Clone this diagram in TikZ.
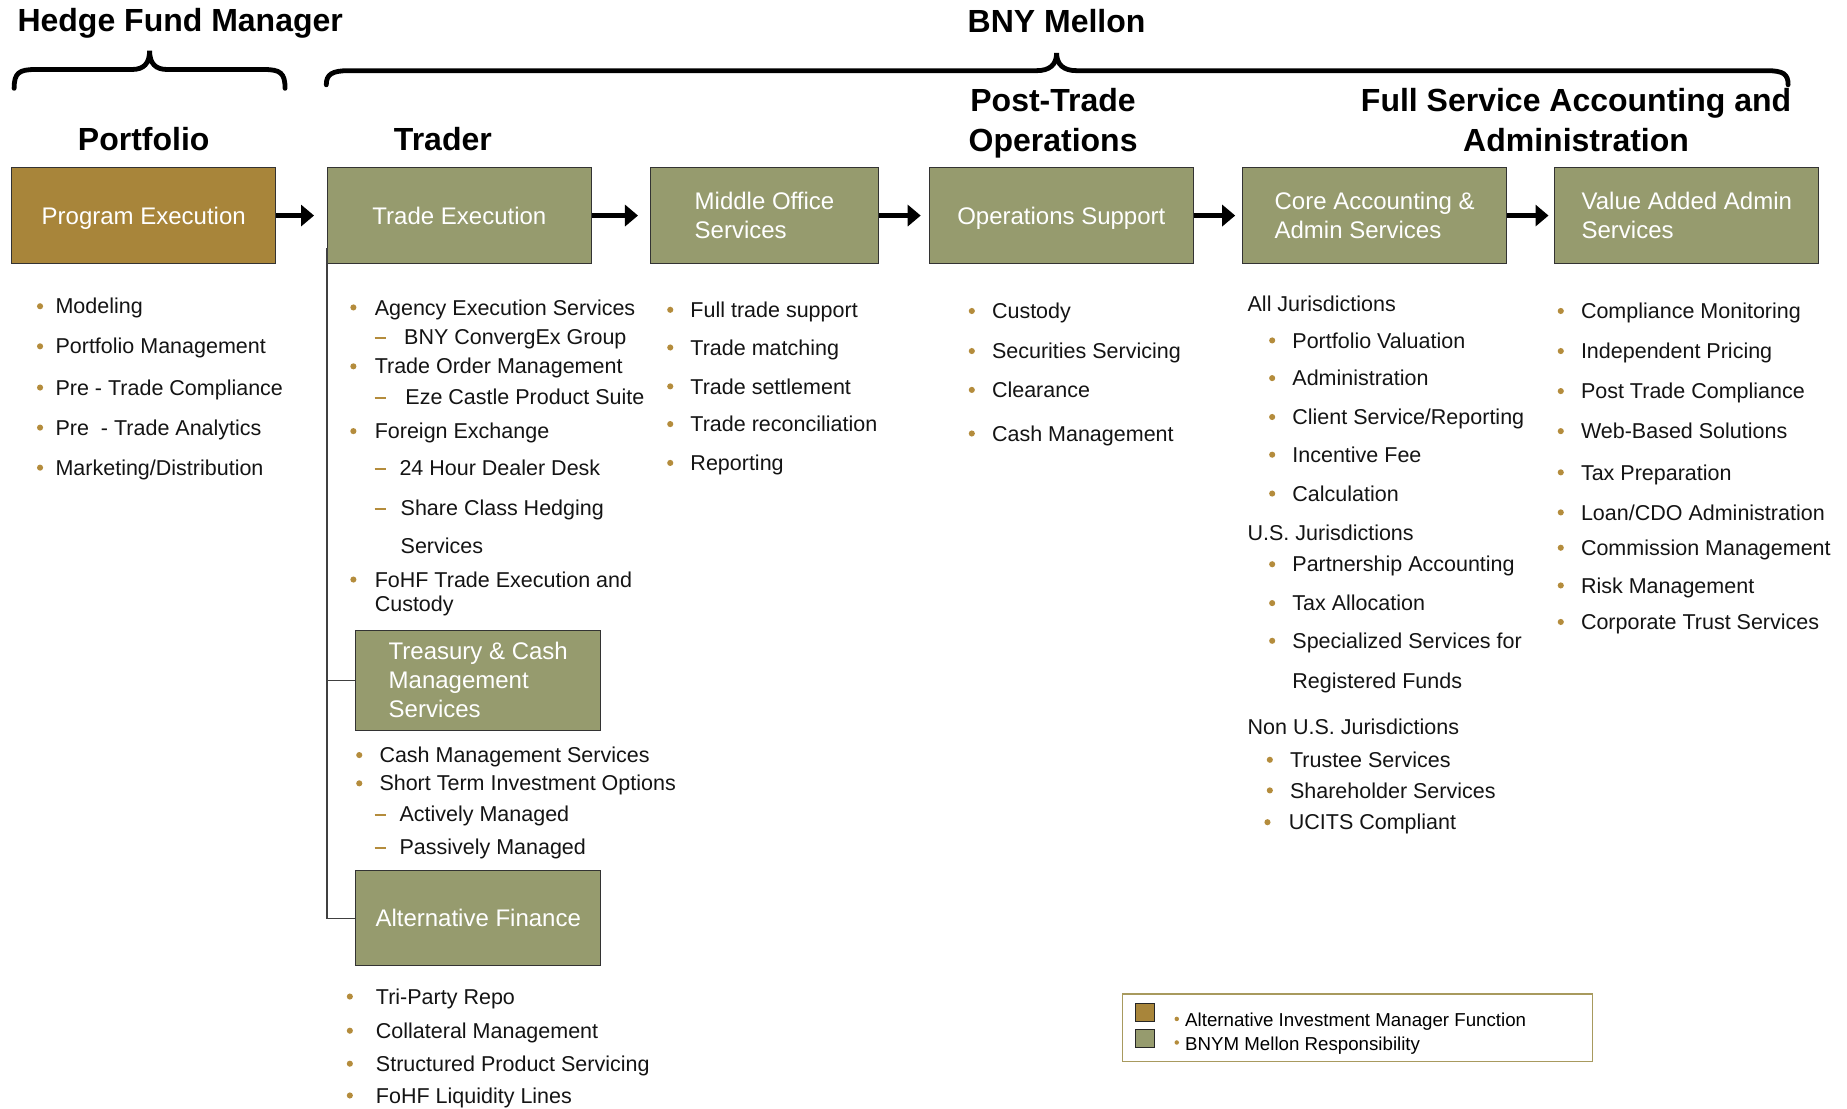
\documentclass[tikz,border=0pt]{standalone}
\usepackage{fontspec}
\setmainfont{Liberation Sans}
\usetikzlibrary{arrows.meta,calc}
\definecolor{olivebox}{HTML}{969B6E}
\definecolor{goldbox}{HTML}{A8853A}
\definecolor{bulletc}{HTML}{B48C3C}
\definecolor{legendc}{HTML}{A89A5E}
\newcommand\U{1.178pt}
\newcommand\bitem[5]{\fill[bulletc] (#2,#4) circle (2.6);\node[txt] (#1) at (#3,#4+6.5) {#5};}
\newcommand\ditem[5]{\draw[bulletc,line width=1.8pt] (#2-5,#4+1) -- (#2+5,#4+1);\node[txt] (#1) at (#3,#4+6.5) {#5};}
\newcommand\pitem[4]{\node[txt] (#1) at (#2,#3+6.5) {#4};}
\begin{document}
\begin{tikzpicture}[x=1.178pt,y=-1.178pt,
  box/.style={draw=black!80,line width=0.9pt,fill=olivebox,text=white,
    font=\fontsize{24}{29}\selectfont,align=left,inner sep=0pt,
    minimum width={224*\U},minimum height={82*\U}},
  head/.style={font=\fontsize{32}{40}\selectfont\bfseries,inner sep=0pt},
  txt/.style={anchor=base west,inner sep=0pt,font=\fontsize{21.5}{26}\selectfont,text=black!92},
  bigarrow/.style={line width=5.6pt,-{Triangle[length=13pt,width=21pt]}},
  brace/.style={line width=4.8pt,line cap=round},
  conn/.style={line width=1.2pt,draw=black!75}]
\fill[white] (0,0) rectangle (1568,940.7);
\useasboundingbox (0,0) rectangle (1568,940.7);

% headings
\node[head,anchor=base] (hfm) at (153,27) {Hedge Fund Manager};
\node[head,anchor=base] (bny) at (897,28) {BNY Mellon};
\node[head,anchor=base] (hpf) at (122,128) {Portfolio};
\node[head,anchor=base] (htr) at (376,128) {Trader};
\node[head,anchor=north,align=center] (hpt) at (894,75) {Post-Trade\\Operations};
\node[head,anchor=north,align=center] (hfs) at (1338,75) {Full Service Accounting and\\Administration};

% braces
\draw[brace] (12,75) .. controls (12,62) and (16,59) .. (30,59) -- (112,59)
  .. controls (122,59) and (127,54) .. (127,43)
  .. controls (127,54) and (132,59) .. (142,59) -- (224,59)
  .. controls (238,59) and (242,62) .. (242,75);
\draw[brace] (277,72) .. controls (277,63) and (282,60) .. (296,60) -- (880,60)
  .. controls (891,60) and (897,55) .. (897,45)
  .. controls (897,55) and (903,60) .. (914,60) -- (1500,60)
  .. controls (1514,60) and (1518,63) .. (1518,72);

% main boxes
\node[box,fill=goldbox,text depth=0pt] (pe) at (122,183) {Program Execution};
\node[box] (te) at (390,183) {Trade Execution};
\node[box,minimum width={194*\U}] (mo) at (649,183) {Middle Office\\Services};
\node[box,text depth=0pt] (os) at (901,183) {Operations Support};
\node[box] (ca) at (1167,183) {Core Accounting \&\\Admin Services};
\node[box] (va) at (1432,183) {Value Added Admin\\Services};
\node[box,minimum width={208*\U},minimum height={85*\U}] (tc) at (406,577.5) {Treasury \& Cash\\Management\\Services};
\node[box,minimum width={208*\U},minimum height={81*\U}] (af) at (406,779.5) {Alternative Finance};

% arrows
\draw[bigarrow] (pe.east) -- ($(te.west)+(-11,0)$);
\draw[bigarrow] (te.east) -- ($(mo.west)+(-10,0)$);
\draw[bigarrow] (mo.east) -- ($(os.west)+(-7,0)$);
\draw[bigarrow] (os.east) -- ($(ca.west)+(-6,0)$);
\draw[bigarrow] (ca.east) -- ($(va.west)+(-5,0)$);

% tree connectors
\draw[conn] ($(te.south west)+(0,-14)$) |- (tc.west);
\draw[conn] ($(te.south west)+(0,-14)$) |- (af.west);

% Portfolio list
\bitem{pf1}{34}{47}{260}{Modeling}
\bitem{pf2}{34}{47}{294}{Portfolio Management}
\bitem{pf3}{34}{47}{329}{Pre - Trade Compliance}
\bitem{pf4}{34}{47}{363}{Pre\ \ - Trade Analytics}
\bitem{pf5}{34}{47}{397}{Marketing/Distribution}

% Trader list
\bitem{tr1}{300}{318}{261}{Agency Execution Services}
\ditem{tr2}{323}{343}{286}{BNY ConvergEx Group}
\bitem{tr3}{300}{318}{311}{Trade Order Management}
\ditem{tr4}{323}{344}{337}{Eze Castle Product Suite}
\bitem{tr5}{300}{318}{366}{Foreign Exchange}
\ditem{tr6}{323}{339}{397}{24 Hour Dealer Desk}
\ditem{tr7}{323}{340}{431}{Share Class Hedging}
\pitem{tr8}{340}{463}{Services}
\bitem{tr9}{300}{318}{492}{FoHF Trade Execution and}
\pitem{tr10}{318}{513}{Custody}

% Treasury list
\bitem{cm1}{305}{322}{641}{Cash Management Services}
\bitem{cm2}{305}{322}{665}{Short Term Investment Options}
\ditem{cm3}{323}{339}{691}{Actively Managed}
\ditem{cm4}{323}{339}{719}{Passively Managed}

% Alternative finance list
\bitem{al1}{297}{319}{846}{Tri-Party Repo}
\bitem{al2}{297}{319}{875}{Collateral Management}
\bitem{al3}{297}{319}{903}{Structured Product Servicing}
\bitem{al4}{297}{319}{930}{FoHF Liquidity Lines}

% Middle office list
\bitem{mo1}{569}{586}{263}{Full trade support}
\bitem{mo2}{569}{586}{295}{Trade matching}
\bitem{mo3}{569}{586}{328}{Trade settlement}
\bitem{mo4}{569}{586}{360}{Trade reconciliation}
\bitem{mo5}{569}{586}{393}{Reporting}

% Operations list
\bitem{op1}{825}{842}{264}{Custody}
\bitem{op2}{825}{842}{298}{Securities Servicing}
\bitem{op3}{825}{842}{331}{Clearance}
\bitem{op4}{825}{842}{368}{Cash Management}

% Core accounting list
\pitem{ca0}{1059}{258}{All Jurisdictions}
\bitem{ca1}{1080}{1097}{289}{Portfolio Valuation}
\bitem{ca2}{1080}{1097}{321}{Administration}
\bitem{ca3}{1080}{1097}{354}{Client Service/Reporting}
\bitem{ca4}{1080}{1097}{386}{Incentive Fee}
\bitem{ca5}{1080}{1097}{419}{Calculation}
\pitem{cu0}{1059}{452}{U.S. Jurisdictions}
\bitem{cu1}{1080}{1097}{479}{Partnership Accounting}
\bitem{cu2}{1080}{1097}{512}{Tax Allocation}
\bitem{cu3}{1080}{1097}{544}{Specialized Services for}
\pitem{cu4}{1097}{578}{Registered Funds}
\pitem{cn0}{1059}{617}{Non U.S. Jurisdictions}
\bitem{cn1}{1078}{1095}{645}{Trustee Services}
\bitem{cn2}{1078}{1095}{671}{Shareholder Services}
\bitem{cn3}{1076}{1094}{698}{UCITS Compliant}

% Value added list
\bitem{va1}{1325}{1342}{264}{Compliance Monitoring}
\bitem{va2}{1325}{1342}{298}{Independent Pricing}
\bitem{va3}{1325}{1342}{332}{Post Trade Compliance}
\bitem{va4}{1325}{1342}{366}{Web-Based Solutions}
\bitem{va5}{1325}{1342}{401}{Tax Preparation}
\bitem{va6}{1325}{1342}{435}{Loan/CDO Administration}
\bitem{va7}{1325}{1342}{465}{Commission Management}
\bitem{va8}{1325}{1342}{497}{Risk Management}
\bitem{va9}{1325}{1342}{528}{Corporate Trust Services}

% legend
\node[draw=legendc,line width=1.6pt,minimum width={399*\U},minimum height={57*\U},inner sep=0pt] (lg) at (1152.5,872.5) {};
\node[draw=black!85,line width=1.2pt,fill=goldbox,minimum width={16*\U},minimum height={15*\U},inner sep=0pt] (sw1) at (972,859.5) {};
\node[draw=black!85,line width=1.2pt,fill=olivebox,minimum width={16*\U},minimum height={15*\U},inner sep=0pt] (sw2) at (972,881.5) {};
\fill[bulletc] (999,865) circle (1.9);
\fill[bulletc] (999,885) circle (1.9);
\node[anchor=base west,inner sep=0pt,font=\fontsize{18.7}{22}\selectfont] (lg1) at (1006,871.5) {Alternative Investment Manager Function};
\node[anchor=base west,inner sep=0pt,font=\fontsize{18.7}{22}\selectfont] (lg2) at (1006,891.5) {BNYM Mellon Responsibility};
\end{tikzpicture}
\end{document}
